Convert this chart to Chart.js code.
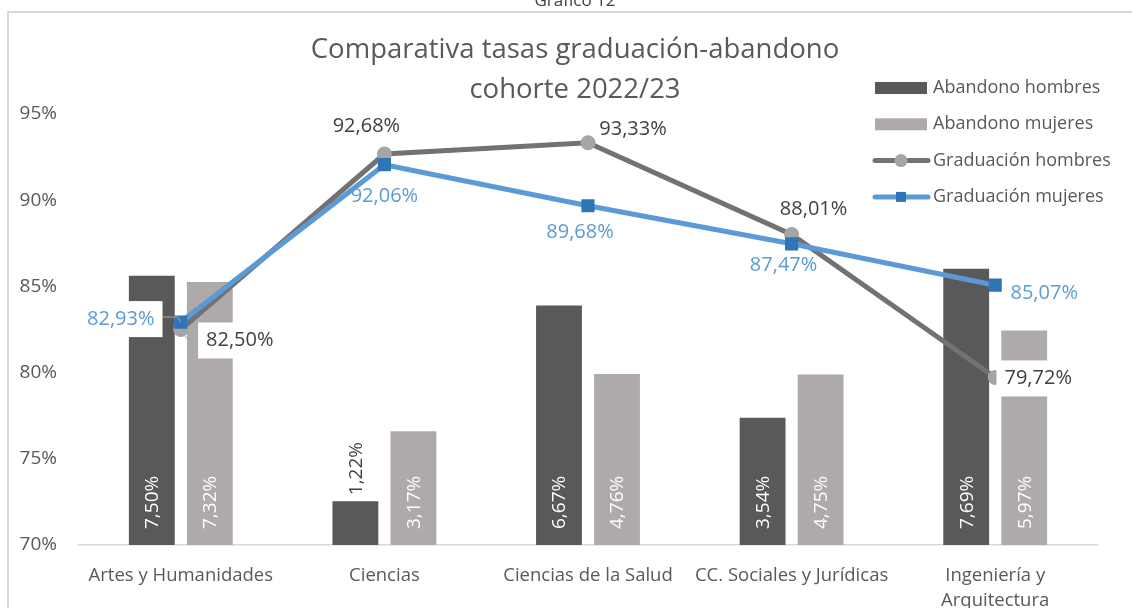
<!DOCTYPE html>
<html>
<head>
<meta charset="utf-8">
<script src="https://cdn.jsdelivr.net/npm/chart.js@4.4.0/dist/chart.umd.min.js"></script>
<style>
  html, body { margin: 0; padding: 0; background: #fff; }
  #wrap { width: 1132px; height: 608px; }
</style>
</head>
<body>
<div id="wrap"><canvas id="grafico" width="1132" height="608"></canvas></div>
<script>
// ===== Datos =====
const categorias = ['Artes y Humanidades', 'Ciencias', 'Ciencias de la Salud', 'CC. Sociales y Jurídicas', ['Ingeniería y', 'Arquitectura']];
const abandonoHombres = [7.50, 1.22, 6.67, 3.54, 7.69];
const abandonoMujeres = [7.32, 3.17, 4.76, 4.75, 5.97];
const graduacionHombres = [82.50, 92.68, 93.33, 88.01, 79.72];
const graduacionMujeres = [82.93, 92.06, 89.68, 87.47, 85.07];
const ticksY = [70, 75, 80, 85, 90, 95];
const titulo = ['Comparativa tasas graduación-abandono', 'cohorte 2022/23'];

// posición manual de las etiquetas de las líneas: [dx, dy, fondo blanco, línea guía]
const posHombres = [[59, 11, true, true], [-18, -28], [45, -13], [22, -25], [43, 1, true]];
const posMujeres = [[-60, -3, true, true], [0, 32], [-8, 27], [-8, 21], [49, 8]];

const FUENTE = '"Open Sans", sans-serif';
const fmt = v => v.toFixed(2).replace('.', ',') + '%';

// ===== Plugin: marco, título, etiquetas y leyenda =====
const extras = {
  id: 'extras',
  beforeDraw(chart) {
    const c = chart.ctx;
    c.save();
    c.fillStyle = '#fff';
    c.fillRect(0, 0, chart.width, chart.height);
    c.strokeStyle = '#D9D9D9';
    c.lineWidth = 2;
    c.strokeRect(8, 12, chart.width + 20, chart.height + 20);
    c.textAlign = 'center';
    c.fillStyle = '#404040';
    c.font = '17px ' + FUENTE;
    c.textBaseline = 'alphabetic';
    c.fillText('Gráfico 12', 575, 6);
    c.fillStyle = '#595959';
    c.font = '27.5px ' + FUENTE;
    c.textBaseline = 'middle';
    titulo.forEach((t, i) => c.fillText(t, 575, 50 + i * 40));
    c.restore();
  },
  afterDatasetsDraw(chart) {
    const c = chart.ctx;
    const base = chart.chartArea.bottom;
    c.save();

    // etiquetas de barras (verticales, en la base)
    c.font = '19px ' + FUENTE;
    c.textBaseline = 'middle';
    c.textAlign = 'left';
    [0, 1].forEach(di => {
      const ds = chart.data.datasets[di];
      chart.getDatasetMeta(di).data.forEach((bar, i) => {
        const txt = fmt(ds.data[i]);
        const w = c.measureText(txt).width;
        c.save();
        if (base - bar.y > w + 24) {
          c.translate(bar.x, base - 16);
          c.fillStyle = '#fff';
        } else {
          c.translate(bar.x, bar.y - 6);
          c.fillStyle = '#404040';
        }
        c.rotate(-Math.PI / 2);
        c.fillText(txt, 0, 1);
        c.restore();
      });
    });

    // etiquetas de líneas
    c.font = '20px ' + FUENTE;
    c.textAlign = 'center';
    [[2, posHombres, '#404040'], [3, posMujeres, '#5B9BD5']].forEach(([di, pos, color]) => {
      const ds = chart.data.datasets[di];
      chart.getDatasetMeta(di).data.forEach((pt, i) => {
        const [dx, dy, caja, guia] = pos[i];
        const x = pt.x + dx, y = pt.y + dy;
        const txt = fmt(ds.data[i]);
        if (caja) {
          const w = c.measureText(txt).width + 16;
          const bx = x - w / 2;
          c.fillStyle = '#fff';
          c.fillRect(bx, y - 18, w, 36);
          if (guia) {
            c.strokeStyle = '#A6A6A6';
            c.lineWidth = 1;
            c.beginPath();
            const ex = dx > 0 ? bx : bx + w;
            c.moveTo(ex, y - 2);
            c.lineTo(pt.x + (dx > 0 ? 6 : -3), y - 2);
            c.lineTo(pt.x, pt.y);
            c.stroke();
          }
        }
        c.fillStyle = color;
        c.fillText(txt, x, y);
      });
    });
    c.restore();
  },
  afterDraw(chart) {
    const c = chart.ctx;
    c.save();
    c.font = '18px ' + FUENTE;
    c.textAlign = 'left';
    c.textBaseline = 'middle';
    chart.data.datasets.forEach((ds, i) => {
      const y = 88 + i * 36.3;
      if (ds.type === 'bar') {
        c.fillStyle = ds.backgroundColor;
        c.fillRect(875, y - 6, 52, 12);
      } else {
        c.strokeStyle = ds.borderColor;
        c.lineWidth = 5;
        c.lineCap = 'round';
        c.beginPath();
        c.moveTo(875, y);
        c.lineTo(928, y);
        c.stroke();
        c.fillStyle = ds.pointBackgroundColor;
        if (ds.pointStyle === 'rect') {
          c.fillRect(896, y - 5, 10, 10);
        } else {
          c.beginPath();
          c.arc(901, y, 6.5, 0, Math.PI * 2);
          c.fill();
        }
      }
      c.fillStyle = '#595959';
      c.fillText(ds.label, 933, y);
    });
    c.restore();
  }
};

// ===== Gráfico =====
new Chart(document.getElementById('grafico'), {
  data: {
    labels: categorias,
    datasets: [
      {
        type: 'bar',
        label: 'Abandono hombres',
        data: abandonoHombres,
        backgroundColor: '#595959',
        yAxisID: 'y1',
        order: 3,
        barPercentage: 0.79,
        categoryPercentage: 0.57
      },
      {
        type: 'bar',
        label: 'Abandono mujeres',
        data: abandonoMujeres,
        backgroundColor: '#AEAAAA',
        yAxisID: 'y1',
        order: 4,
        barPercentage: 0.79,
        categoryPercentage: 0.57
      },
      {
        type: 'line',
        label: 'Graduación hombres',
        data: graduacionHombres,
        borderColor: '#767171',
        borderWidth: 5,
        pointStyle: 'circle',
        pointRadius: 7.5,
        pointBackgroundColor: '#A5A5A5',
        pointBorderWidth: 0,
        yAxisID: 'y',
        order: 2
      },
      {
        type: 'line',
        label: 'Graduación mujeres',
        data: graduacionMujeres,
        borderColor: '#5B9BD5',
        borderWidth: 5,
        pointStyle: 'rect',
        pointRadius: 9.3,
        pointBackgroundColor: '#2E75B6',
        pointBorderWidth: 0,
        yAxisID: 'y',
        order: 1
      }
    ]
  },
  options: {
    responsive: false,
    animation: false,
    devicePixelRatio: 1,
    layout: { padding: { top: 114, right: 35, left: 0, bottom: 0 } },
    plugins: {
      legend: { display: false },
      title: { display: false },
      tooltip: { enabled: false }
    },
    scales: {
      x: {
        grid: { display: false },
        border: { color: '#D9D9D9', width: 1.5 },
        ticks: {
          color: '#595959',
          font: { family: FUENTE, size: 18.5, lineHeight: 1.35 },
          padding: 10,
          maxRotation: 0,
          autoSkip: false
        },
        afterFit(scale) { scale.height = 63; }
      },
      y: {
        position: 'left',
        min: 70,
        max: 95,
        grid: { display: false, drawTicks: false },
        border: { display: false },
        afterBuildTicks(scale) { scale.ticks = ticksY.map(v => ({ value: v })); },
        ticks: {
          color: '#595959',
          font: { family: FUENTE, size: 19 },
          padding: 22,
          callback: v => v + '%'
        },
        afterFit(scale) { scale.width = 79; }
      },
      y1: {
        display: false,
        min: 0,
        max: 12
      }
    }
  },
  plugins: [extras]
});
</script>
</body>
</html>
